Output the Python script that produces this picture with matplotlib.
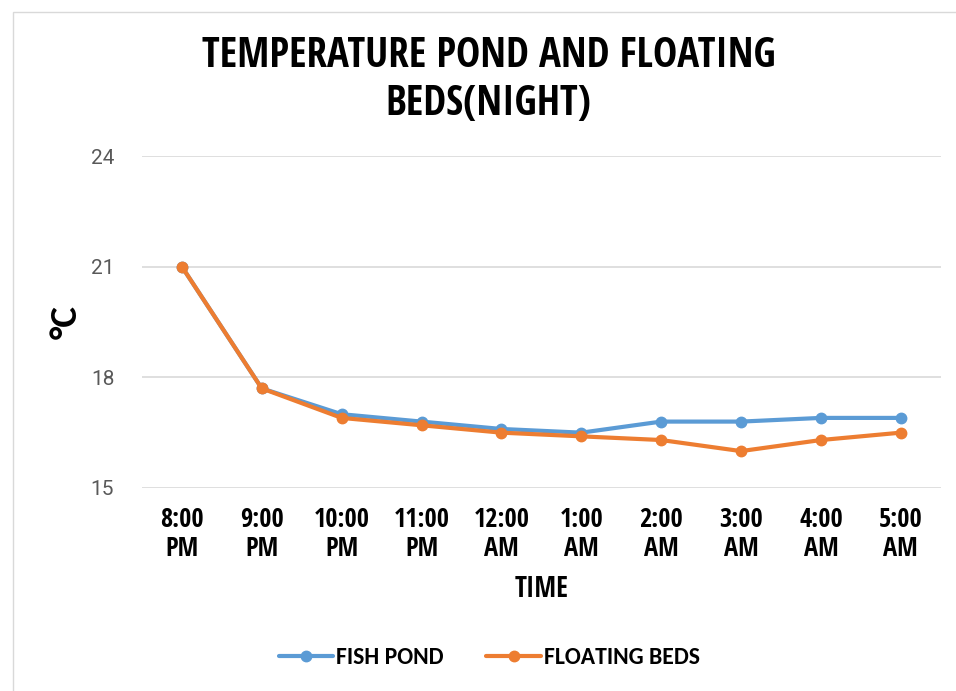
import matplotlib.pyplot as plt
from matplotlib.patches import Rectangle

times = ["8:00\nPM", "9:00\nPM", "10:00\nPM", "11:00\nPM", "12:00\nAM",
         "1:00\nAM", "2:00\nAM", "3:00\nAM", "4:00\nAM", "5:00\nAM"]
fish_pond = [21.0, 17.7, 17.0, 16.8, 16.6, 16.5, 16.8, 16.8, 16.9, 16.9]
floating_beds = [21.0, 17.7, 16.9, 16.7, 16.5, 16.4, 16.3, 16.0, 16.3, 16.5]
y_ticks = [15, 18, 21, 24]

narrow = ["Open Sans Condensed", "DejaVu Sans"]
calibri = ["Carlito", "DejaVu Sans"]

fig = plt.figure(figsize=(9.56, 6.91), dpi=100)
fig.patches.append(Rectangle((13 / 956, -0.01), 1.0, 1 - 12 / 691 + 0.01,
                             transform=fig.transFigure, fill=False,
                             edgecolor="#d9d9d9", lw=1.0))
ax = fig.add_axes([0.1485, 0.2938, 0.8355, 0.4804])

x = range(len(times))
ax.plot(x, fish_pond, color="#5b9bd5", lw=3.0, marker="o", ms=7.5,
        label="FISH POND", solid_capstyle="round")
ax.plot(x, floating_beds, color="#ed7d31", lw=3.0, marker="o", ms=7.5,
        label="FLOATING BEDS", solid_capstyle="round")

ax.set_xlim(-0.5, len(times) - 0.5)
ax.set_ylim(15, 24)
ax.set_yticks(y_ticks)
ax.set_xticks(list(x))
ax.set_xticklabels(times, family=narrow, fontweight="bold", fontsize=19,
                   linespacing=1.1)
ax.set_yticklabels([str(v) for v in y_ticks], family="Roboto",
                   fontsize=15, color="#595959")
ax.tick_params(axis="both", length=0)
ax.tick_params(axis="x", pad=13)
ax.tick_params(axis="y", pad=20)
ax.grid(axis="y", color="#d9d9d9", lw=1.2)
ax.set_axisbelow(True)
for s in ax.spines.values():
    s.set_visible(False)

ax.set_xlabel("TIME", family=narrow, fontweight="bold", fontsize=20,
              labelpad=9)
ax.set_ylabel("°C", family=calibri, fontweight="bold", fontsize=28,
              labelpad=6)

fig.text(0.511, 0.884, "TEMPERATURE POND AND FLOATING\nBEDS(NIGHT)",
         ha="center", va="center", family=narrow, fontweight="bold",
         fontsize=29.5, linespacing=1.22)

fig.legend(loc="center", bbox_to_anchor=(0.512, 0.048), ncol=2, frameon=False,
           prop={"family": calibri, "weight": "bold", "size": 17},
           handlelength=2.3, columnspacing=1.8, handletextpad=0.15)

fig.savefig("out.png", dpi=100)
